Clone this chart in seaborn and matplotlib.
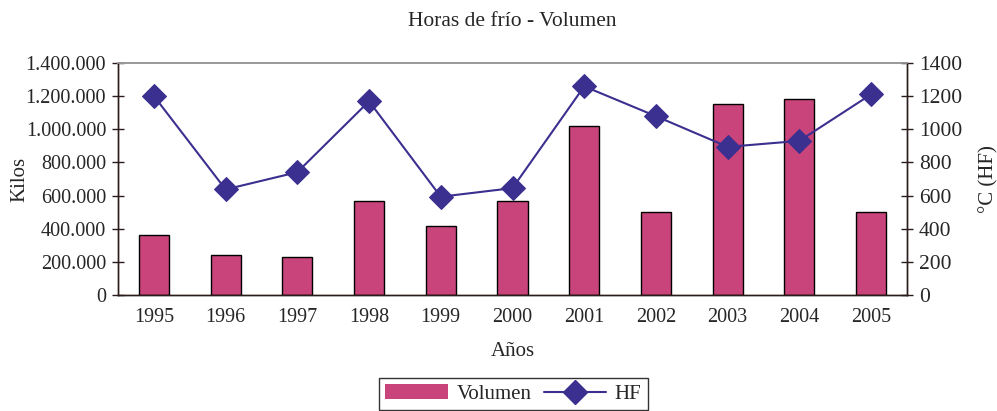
import numpy as np
import pandas as pd
import matplotlib
matplotlib.use("Agg")
import matplotlib.pyplot as plt
import seaborn as sns
from matplotlib.patches import Patch
from matplotlib.lines import Line2D

# data
years = ['1995', '1996', '1997', '1998', '1999', '2000', '2001', '2002', '2003', '2004', '2005']
volumen = [360000, 239000, 229000, 565000, 418000, 565000, 1018000, 502000, 1151000, 1183000, 502000]
hf = [1201, 637, 741, 1169, 593, 645, 1259, 1079, 894, 930, 1211]

bar_color = '#C8447A'
line_color = '#3B2F8F'
axis_color = '#2B1B1B'

sns.set_style('white')
plt.rcParams['font.family'] = ['Liberation Serif', 'DejaVu Serif']

df = pd.DataFrame({'year': years, 'volumen': volumen, 'hf': hf})

fig = plt.figure(figsize=(9.97, 4.11), dpi=100)
ax = fig.add_axes([118 / 997, (411 - 295) / 411, (907 - 118) / 997, (295 - 63) / 411])

sns.barplot(data=df, x='year', y='volumen', color=bar_color, width=0.42,
            edgecolor='black', linewidth=1, saturation=1, ax=ax)
ax.set_xlim(-0.5, len(years) - 0.5)
ax.set_ylim(0, 1400000)
ax.set_yticks(np.arange(0, 1400001, 200000))
ax.set_yticklabels([f'{int(v):,}'.replace(',', '.') for v in np.arange(0, 1400001, 200000)])

ax2 = ax.twinx()
sns.lineplot(x=np.arange(len(years)), y=df['hf'], color=line_color, marker='D',
             markersize=12, markeredgecolor=line_color, linewidth=1.5, ax=ax2)
ax2.set_ylim(0, 1400)
ax2.set_yticks(np.arange(0, 1401, 200))

# tick marks between categories, labels under the bars
ax.set_xticks(np.arange(len(years)))
ax.set_xticks(np.arange(0.5, len(years) - 0.5, 1), minor=True)
ax.tick_params(axis='x', which='major', length=0, pad=9, labelsize=14.5)
ax.tick_params(axis='x', which='minor', length=9, direction='inout', color=axis_color, width=1)
ax.tick_params(axis='y', length=9, direction='inout', color=axis_color, width=1, labelsize=14.5, pad=4)
ax2.tick_params(axis='y', length=9, direction='inout', color=axis_color, width=1, labelsize=15.5, pad=4)

for a in (ax, ax2):
    for side in ('left', 'right', 'bottom'):
        a.spines[side].set_color(axis_color)
        a.spines[side].set_linewidth(1)
    a.spines['top'].set_color('#999999')
    a.spines['top'].set_linewidth(1.2)

ax.set_xlabel('Años', fontsize=15, labelpad=11)
ax.set_ylabel('Kilos', fontsize=15)
ax.yaxis.set_label_coords(-0.112, 0.5)
ax2.set_ylabel('°C (HF)', fontsize=15, labelpad=12)
fig.text(0.514, 1 - 22 / 411, 'Horas de frío - Volumen', ha='center', va='center', fontsize=15.5)

handles = [Patch(facecolor=bar_color, edgecolor='none'),
           Line2D([0], [0], color=line_color, marker='D', markersize=12, linewidth=1.5)]
leg = fig.legend(handles, ['Volumen', 'HF'], loc='upper center', ncol=2,
                 bbox_to_anchor=(0.515, 1 - 378 / 411), fontsize=15, frameon=True,
                 fancybox=False, edgecolor='black', handlelength=3.0, columnspacing=0.6,
                 handletextpad=0.4, borderpad=0.3, borderaxespad=0)
leg.get_frame().set_linewidth(1)

fig.savefig('out.png', dpi=100)
